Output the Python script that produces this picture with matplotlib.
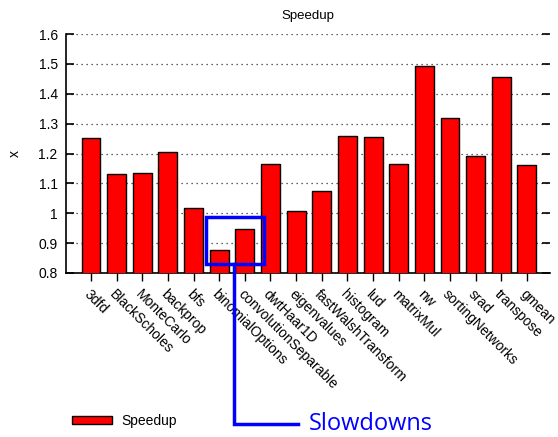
import matplotlib
matplotlib.use("Agg")
import matplotlib.pyplot as plt
from matplotlib.patches import Rectangle
from matplotlib.lines import Line2D

plt.rcParams['font.family'] = ['Liberation Sans', 'DejaVu Sans']

benchmarks = ["3dfd", "BlackScholes", "MonteCarlo", "backprop", "bfs",
              "binomialOptions", "convolutionSeparable", "dwtHaar1D",
              "eigenvalues", "fastWalshTransform", "histogram", "lud",
              "matrixMul", "nw", "sortingNetworks", "srad", "transpose", "gmean"]
speedup = [1.252, 1.132, 1.136, 1.205, 1.019, 0.878, 0.946, 1.164,
           1.009, 1.076, 1.257, 1.256, 1.166, 1.494, 1.320, 1.191, 1.455, 1.163]
yticks = [0.8, 0.9, 1.0, 1.1, 1.2, 1.3, 1.4, 1.5, 1.6]
ytick_labels = ["0.8", "0.9", "1", "1.1", "1.2", "1.3", "1.4", "1.5", "1.6"]

W, H = 558, 437
fig = plt.figure(figsize=(W / 100, H / 100), dpi=100)
ax = fig.add_axes([66 / W, 1 - 273 / H, 484 / W, 239 / H])

x = list(range(len(benchmarks)))
bars = ax.bar(x, speedup, width=0.74, bottom=0, color="#ff0000",
              edgecolor="black", linewidth=1.0, label="Speedup", zorder=3)

ax.set_ylim(0.8, 1.6)
ax.set_xlim(-0.975, 17.9)
ax.set_yticks(yticks)
ax.set_yticklabels(ytick_labels, fontsize=10)
ax.set_xticks(x)
ax.set_xticklabels(benchmarks, rotation=-45, ha="left", va="top",
                   rotation_mode="anchor", fontsize=10)

for s in ("top", "right"):
    ax.spines[s].set_visible(False)
for s in ("left", "bottom"):
    ax.spines[s].set_linewidth(1.2)

ax.tick_params(axis="y", direction="in", left=True, right=True, length=6,
               width=1.2, pad=6)
ax.tick_params(axis="x", direction="out", length=6, width=1.0, pad=4)
ax.yaxis.grid(True, linestyle=(0, (1, 3)), color="#333333", linewidth=0.9, zorder=0)
ax.set_axisbelow(True)

ax.set_title("Speedup", fontsize=9.5, pad=11)
ax.set_ylabel("x", fontsize=10, labelpad=12)

fig.legend(handles=[bars], labels=["Speedup"], loc="center left",
           bbox_to_anchor=(59 / W, 1 - 421 / H), frameon=False, fontsize=10,
           handlelength=2.9, handleheight=0.5, handletextpad=0.7)

# Highlight box around the slowdown bars
ax.add_patch(Rectangle((4.47, 0.83), 2.27, 0.157, fill=False, edgecolor="#0000ff",
                       linewidth=2.5, clip_on=False, zorder=5))

# Connector from the box to the label
px = lambda u, v: (u / W, 1 - v / H)
p0, p1, p2 = px(234, 264), px(234, 424), px(298, 424)
fig.add_artist(Line2D([p0[0], p1[0], p2[0]], [p0[1], p1[1], p2[1]],
                      color="#0000ff", linewidth=2.5, solid_joinstyle="miter"))
fig.text(309 / W, 1 - 424 / H, "Slowdowns", color="#0000ff", fontsize=17,
         family=["Open Sans", "DejaVu Sans"], va="center", ha="left")

fig.savefig("out.png", dpi=100)
